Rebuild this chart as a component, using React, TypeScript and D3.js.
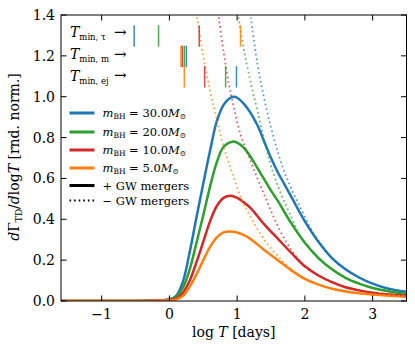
import React from 'react';
import * as d3 from 'd3';

// rate curves: [log T, value]
const blueSolid: [number, number][] = [
  [-1.6, 0], [-0.8, 0], [-0.4, 0.0005], [-0.2, 0.002], [0, 0.008], [0.1, 0.025], [0.2, 0.095],
  [0.3, 0.24], [0.4, 0.41], [0.5, 0.575], [0.6, 0.735], [0.7, 0.88], [0.8, 0.96], [0.9, 0.995],
  [0.95, 1.0], [1.0, 0.995], [1.1, 0.965], [1.2, 0.92], [1.3, 0.86], [1.4, 0.78], [1.5, 0.7],
  [1.6, 0.63], [1.7, 0.57], [1.8, 0.51], [2.0, 0.39], [2.2, 0.29], [2.4, 0.21], [2.6, 0.155],
  [2.8, 0.115], [3.0, 0.085], [3.2, 0.063], [3.5, 0.045],
];
const greenSolid: [number, number][] = [
  [-1.6, 0], [-0.8, 0], [-0.4, 0.0005], [-0.2, 0.002], [0, 0.008], [0.1, 0.02], [0.2, 0.065],
  [0.3, 0.155], [0.4, 0.285], [0.5, 0.42], [0.6, 0.56], [0.7, 0.68], [0.8, 0.755], [0.93, 0.78],
  [1.0, 0.775], [1.1, 0.75], [1.2, 0.705], [1.3, 0.65], [1.4, 0.595], [1.5, 0.54], [1.6, 0.49],
  [1.8, 0.38], [2.0, 0.285], [2.2, 0.21], [2.4, 0.155], [2.6, 0.113], [2.8, 0.085], [3.0, 0.064],
  [3.2, 0.05], [3.5, 0.034],
];
const redSolid: [number, number][] = [
  [-1.6, 0], [-0.8, 0], [-0.4, 0.0005], [-0.2, 0.002], [0, 0.006], [0.1, 0.012], [0.2, 0.04],
  [0.3, 0.1], [0.4, 0.19], [0.5, 0.29], [0.6, 0.39], [0.7, 0.465], [0.8, 0.505], [0.9, 0.515],
  [1.0, 0.505], [1.1, 0.483], [1.2, 0.455], [1.4, 0.375], [1.6, 0.305], [1.8, 0.235], [2.0, 0.17],
  [2.2, 0.125], [2.4, 0.092], [2.6, 0.067], [2.8, 0.052], [3.0, 0.041], [3.2, 0.033], [3.5, 0.026],
];
const orangeSolid: [number, number][] = [
  [-1.6, 0], [-0.8, 0], [-0.4, 0.0005], [-0.2, 0.002], [0, 0.004], [0.1, 0.008], [0.2, 0.025],
  [0.3, 0.07], [0.4, 0.13], [0.5, 0.2], [0.6, 0.265], [0.7, 0.312], [0.8, 0.336], [0.88, 0.34],
  [1.0, 0.335], [1.1, 0.322], [1.2, 0.303], [1.4, 0.25], [1.6, 0.2], [1.8, 0.15], [2.0, 0.108],
  [2.2, 0.08], [2.4, 0.06], [2.6, 0.047], [2.8, 0.038], [3.0, 0.032], [3.2, 0.027], [3.5, 0.021],
];

// without GW mergers (dotted)
const blueDotted: [number, number][] = [
  [1.15, 1.5], [1.2, 1.39], [1.3, 1.16], [1.4, 0.99], [1.5, 0.85], [1.6, 0.73], [1.7, 0.63],
  [1.8, 0.55], [1.93, 0.46], [2.13, 0.33], [2.3, 0.25], [2.4, 0.21], [2.6, 0.155], [2.8, 0.115],
  [3.0, 0.085], [3.2, 0.063], [3.5, 0.045],
];
const greenDotted: [number, number][] = [
  [0.98, 1.5], [1.02, 1.39], [1.1, 1.23], [1.2, 1.07], [1.3, 0.93], [1.42, 0.76], [1.5, 0.66],
  [1.64, 0.53], [1.8, 0.41], [1.93, 0.32], [2.1, 0.245], [2.3, 0.18], [2.4, 0.155], [2.6, 0.113],
  [2.8, 0.085], [3.0, 0.064], [3.2, 0.05], [3.5, 0.034],
];
const redDotted: [number, number][] = [
  [0.68, 1.5], [0.73, 1.384], [0.8, 1.22], [0.88, 1.06], [0.95, 0.95], [1.05, 0.815],
  [1.17, 0.71], [1.3, 0.6], [1.4, 0.52], [1.5, 0.44], [1.64, 0.34], [1.8, 0.25], [2.0, 0.17],
  [2.2, 0.125], [2.4, 0.092], [2.6, 0.067], [2.8, 0.052], [3.0, 0.041], [3.2, 0.033], [3.5, 0.026],
];
const orangeDotted: [number, number][] = [
  [0.35, 1.5], [0.41, 1.384], [0.5, 1.2], [0.6, 1.03], [0.7, 0.89], [0.8, 0.755], [0.93, 0.625],
  [1.07, 0.494], [1.2, 0.41], [1.4, 0.3], [1.6, 0.22], [1.8, 0.155], [2.0, 0.11], [2.2, 0.08],
  [2.4, 0.06], [2.6, 0.047], [2.8, 0.038], [3.0, 0.032], [3.2, 0.027], [3.5, 0.021],
];

const masses = ['30.0', '20.0', '10.0', '5.0'];
const colors = ['#1f77b4', '#2ca02c', '#d62728', '#ff7f0e'];

// T_min markers (log T), order blue, green, red, orange
const tMinTau = [-0.52, -0.16, 0.44, 1.05];
const tMinM = [0.25, 0.22, 0.19, 0.17];
const tMinEj = [0.99, 0.83, 0.52, 0.22];
const markerRows = [
  { vals: tMinTau, lo: 1.245, hi: 1.35, sub: 'min, τ', base: 37 },
  { vals: tMinM, lo: 1.145, hi: 1.25, sub: 'min, m', base: 59 },
  { vals: tMinEj, lo: 1.045, hi: 1.15, sub: 'min, ej', base: 80.5 },
];

const xTicks = [-1, 0, 1, 2, 3];
const yTicks = [0, 0.2, 0.4, 0.6, 0.8, 1.0, 1.2, 1.4];

const W = 415, H = 353;
const m = { left: 61, right: 8.5, top: 15, bottom: 52 };
const font = '"DejaVu Serif", serif';

const App = () => {
  const x = d3.scaleLinear().domain([-1.6, 3.5]).range([m.left, W - m.right]);
  const y = d3.scaleLinear().domain([0, 1.4]).range([H - m.bottom, m.top]);
  const line = d3.line<[number, number]>()
    .x(d => x(d[0]))
    .y(d => y(d[1]))
    .curve(d3.curveCatmullRom.alpha(0.5));

  const series = [
    { solid: blueSolid, dotted: blueDotted },
    { solid: greenSolid, dotted: greenDotted },
    { solid: redSolid, dotted: redDotted },
    { solid: orangeSolid, dotted: orangeDotted },
  ];

  const [x0, x1] = x.range();
  const [y0, y1] = y.range();
  const tick = 5.5;
  const legendY = [113, 132, 150, 168, 185.5, 200.5];

  return (
    <div style={{ position: 'absolute', left: 0, top: 0 }}>
      <svg width={W} height={H} style={{ display: 'block', background: '#fff' }} fontFamily={font}>
        <defs>
          <clipPath id="plot">
            <rect x={x0} y={y1} width={x1 - x0} height={y0 - y1} />
          </clipPath>
        </defs>

        <g clipPath="url(#plot)">
          {series.map((s, i) => (
            <path key={'s' + i} d={line(s.solid) || ''} fill="none" stroke={colors[i]} strokeWidth={2.5} />
          ))}
          {series.map((s, i) => (
            <path key={'d' + i} d={line(s.dotted) || ''} fill="none" stroke={colors[i]}
              strokeWidth={1.8} strokeDasharray="1.6,3" opacity={0.75} />
          ))}
          {markerRows.map((r, ri) =>
            r.vals.map((v, i) => (
              <line key={ri + '-' + i} x1={x(v)} x2={x(v)} y1={y(r.lo)} y2={y(r.hi)}
                stroke={colors[i]} strokeWidth={1.5} opacity={0.85} />
            ))
          )}
        </g>

        {/* marker row labels */}
        {markerRows.map((r, ri) => (
          <g key={'ml' + ri}>
            <text x={70} y={r.base} fontSize={14}>
              <tspan fontStyle="italic">T</tspan>
              <tspan fontSize={8.5} dy={3}>{r.sub}</tspan>
            </text>
            <text x={114} y={r.base - 0.5} fontSize={15}>→</text>
          </g>
        ))}

        {/* legend */}
        {masses.map((mm, i) => (
          <g key={'lg' + i}>
            <line x1={69.5} x2={94.5} y1={legendY[i]} y2={legendY[i]} stroke={colors[i]} strokeWidth={3} />
            <text x={102.5} y={legendY[i] + 4} fontSize={11.5}>
              <tspan fontStyle="italic">m</tspan>
              <tspan fontSize={7.5} dy={2}>BH</tspan>
              <tspan dy={-2}>{' = ' + mm}</tspan>
              <tspan fontStyle="italic">M</tspan>
              <tspan fontSize={7.5} dy={2}>⊙</tspan>
            </text>
          </g>
        ))}
        <line x1={69.5} x2={94.5} y1={legendY[4]} y2={legendY[4]} stroke="#000" strokeWidth={3} />
        <text x={102.5} y={legendY[4] + 4} fontSize={11.5}>+ GW mergers</text>
        <line x1={69.5} x2={94.5} y1={legendY[5]} y2={legendY[5]} stroke="#000" strokeWidth={1.8}
          strokeDasharray="1.6,3" />
        <text x={102.5} y={legendY[5] + 4} fontSize={11.5}>− GW mergers</text>

        {/* frame */}
        <rect x={x0} y={y1} width={x1 - x0} height={y0 - y1} fill="none" stroke="#000" strokeWidth={1} />

        {/* ticks */}
        {xTicks.map(t => (
          <g key={'xt' + t}>
            <line x1={x(t)} x2={x(t)} y1={y0} y2={y0 - tick} stroke="#000" />
            <line x1={x(t)} x2={x(t)} y1={y1} y2={y1 + tick} stroke="#000" />
            <text x={x(t)} y={y0 + 18} fontSize={14} textAnchor="middle">
              {t < 0 ? '−' + Math.abs(t) : String(t)}
            </text>
          </g>
        ))}
        {yTicks.map(t => (
          <g key={'yt' + t}>
            <line x1={x0} x2={x0 + tick} y1={y(t)} y2={y(t)} stroke="#000" />
            <line x1={x1} x2={x1 - tick} y1={y(t)} y2={y(t)} stroke="#000" />
            <text x={x0 - 6} y={y(t) + 5} fontSize={14} textAnchor="end">{d3.format('.1f')(t)}</text>
          </g>
        ))}

        {/* axis labels */}
        <text x={(x0 + x1) / 2} y={337} fontSize={14} textAnchor="middle">
          log <tspan fontStyle="italic">T</tspan> [days]
        </text>
        <text transform="translate(19,157) rotate(-90)" fontSize={14} textAnchor="middle">
          <tspan fontStyle="italic">d</tspan>Γ<tspan fontSize={9} dy={3}>TD</tspan>
          <tspan dy={-3}>/</tspan><tspan fontStyle="italic">d</tspan>log<tspan fontStyle="italic">T</tspan> [rnd. norm.]
        </text>
      </svg>
    </div>
  );
};

export default App;
